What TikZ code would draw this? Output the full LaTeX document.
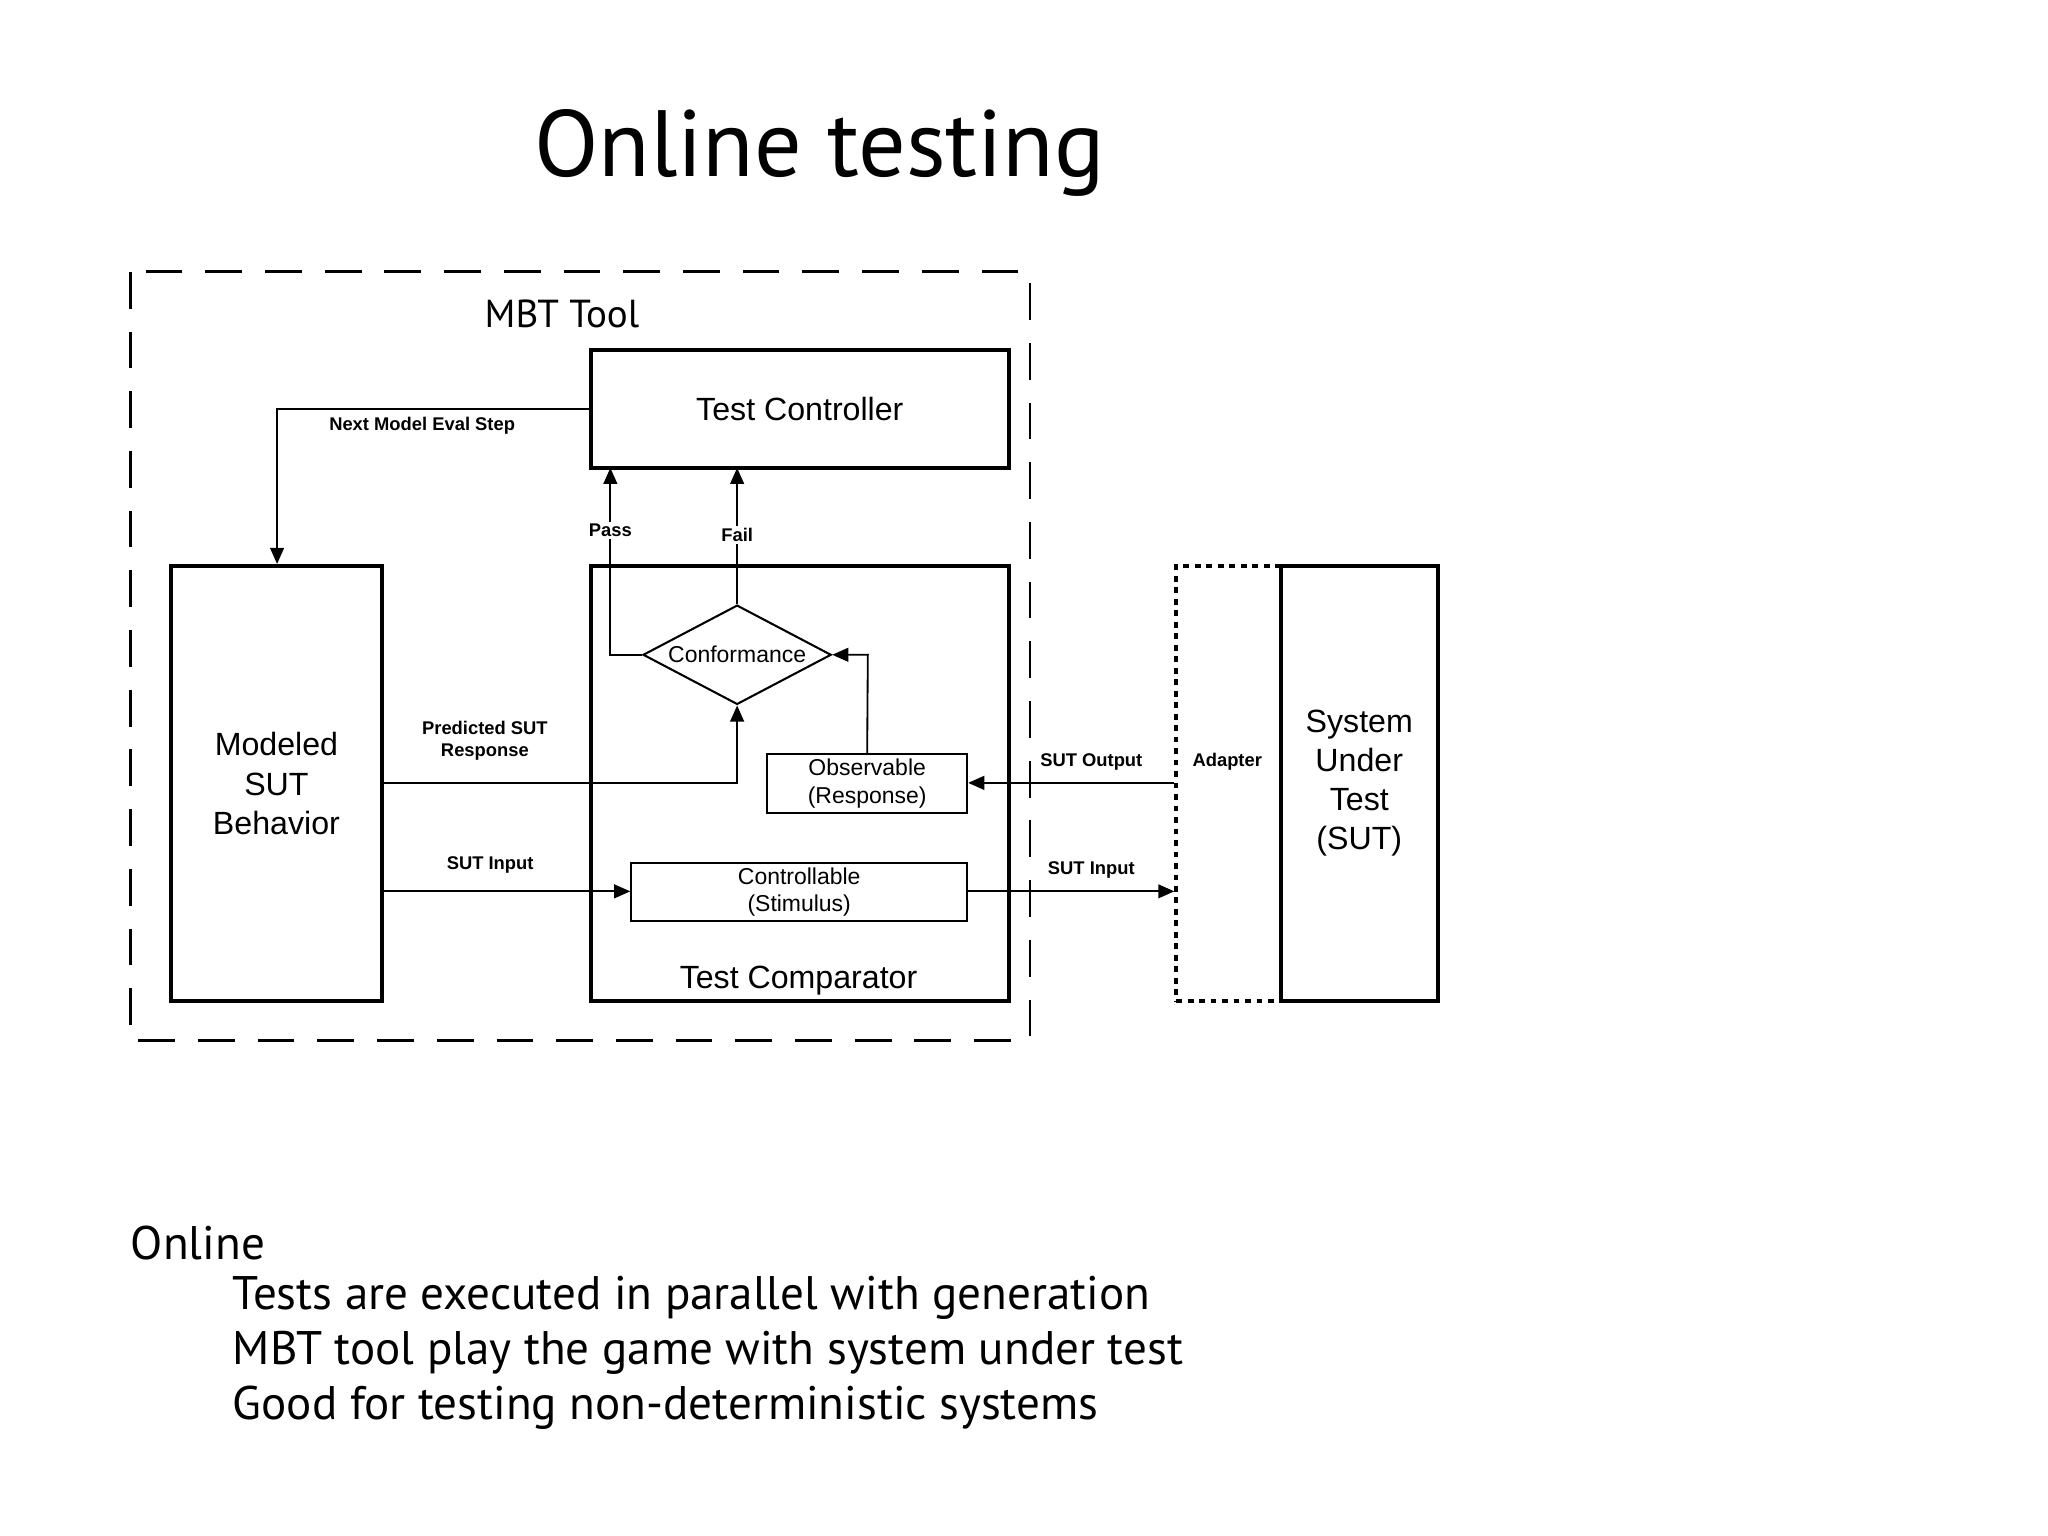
\documentclass[tikz,border=0pt]{standalone}
\usepackage{fontspec}
\setmainfont{PT Sans}
\newfontfamily\arialf{Liberation Sans}
\usetikzlibrary{shapes.geometric,arrows.meta}
\begin{document}
\begin{tikzpicture}[x=0.02cm,y=-0.02cm,
  box/.style={draw,line width=1.7pt,inner sep=0},
  thin/.style={draw,line width=0.9pt,inner sep=0},
  arr/.style={line width=0.8pt,-{Triangle[length=7pt,width=6pt]}},
  lbl/.style={font=\arialf\fontsize{8}{9.5}\selectfont\bfseries,align=center,inner sep=1pt},
  big/.style={font=\arialf\fontsize{14}{17}\selectfont,align=center},
  body/.style={font=\fontsize{20.5}{24}\selectfont,anchor=west}]
\useasboundingbox (0,0) rectangle (1567,1175);
\node[font=\fontsize{41}{45}\selectfont] (title) at (627,117) {Online testing};
\draw[dash pattern=on 16pt off 10pt,line width=1.2pt] (100,208) rectangle (788,796);
\node[font=\fontsize{17}{20}\selectfont] (mbt) at (430,240) {MBT Tool};
\node[box,minimum width=320*0.02cm,minimum height=90*0.02cm,big] (tc) at (612,313) {Test Controller};
\node[box,minimum width=161*0.02cm,minimum height=333*0.02cm,big] (msb) at (211.5,599.5) {Modeled\\SUT\\Behavior};
\node[box,minimum width=320*0.02cm,minimum height=333*0.02cm] (cmp) at (612,599.5) {};
\node[big,anchor=base] (cmpl) at (611,756) {Test Comparator};
\node[thin,diamond,aspect=1.9,minimum width=144*0.02cm,minimum height=76*0.02cm,font=\arialf\fontsize{10}{12}\selectfont] (conf) at (564,501) {Conformance};
\node[thin,minimum width=153*0.02cm,minimum height=45*0.02cm,font=\arialf\fontsize{10}{12}\selectfont,align=center] (obs) at (663.5,599.5) {Observable\\(Response)};
\node[thin,minimum width=257*0.02cm,minimum height=45*0.02cm,font=\arialf\fontsize{10}{12}\selectfont,align=center] (ctl) at (611.5,682.5) {Controllable\\(Stimulus)};
\node[draw,line width=1.7pt,dash pattern=on 2.5pt off 2.5pt,minimum width=80*0.02cm,minimum height=333*0.02cm,inner sep=0] (ad) at (940,599.5) {};
\node[box,minimum width=120*0.02cm,minimum height=333*0.02cm,big] (sut) at (1040,599.5) {System\\Under\\Test\\(SUT)};
\coordinate (c1) at (212,313);
\draw[arr] (tc.west |- 0,313) -- (c1) -- (msb.north -| c1);
\node[lbl] at (323,326) {Next Model Eval Step};
\draw[arr] (conf.west) -- (467,501) -- (467,358);
\node[lbl,fill=white] at (467,406) {Pass};
\draw[arr] (conf.north) -- (564,358);
\node[lbl,fill=white] at (564,409) {Fail};
\draw[arr] (msb.east |- 0,599) -- (564,599) -- (conf.south);
\node[lbl] at (371,567) {Predicted SUT\\Response};
\draw[arr] (obs.north) -- (664,501) -- (conf.east);
\draw[arr] (ad.west |- 0,599) -- (obs.east |- 0,599);
\node[lbl] at (835,583) {SUT Output};
\node[lbl] at (939,583) {Adapter};
\draw[arr] (msb.east |- 0,682) -- (ctl.west |- 0,682);
\node[lbl] at (375,662) {SUT Input};
\draw[arr] (ctl.east |- 0,682) -- (ad.west |- 0,682);
\node[lbl] at (835,666) {SUT Input};
\node[body] (t0) at (94,951) {Online};
\node[body] (t1) at (172,993) {Tests are executed in parallel with generation};
\node[body] (t2) at (172,1035) {MBT tool play the game with system under test};
\node[body] (t3) at (172,1077) {Good for testing non-deterministic systems};
\end{tikzpicture}
\end{document}
